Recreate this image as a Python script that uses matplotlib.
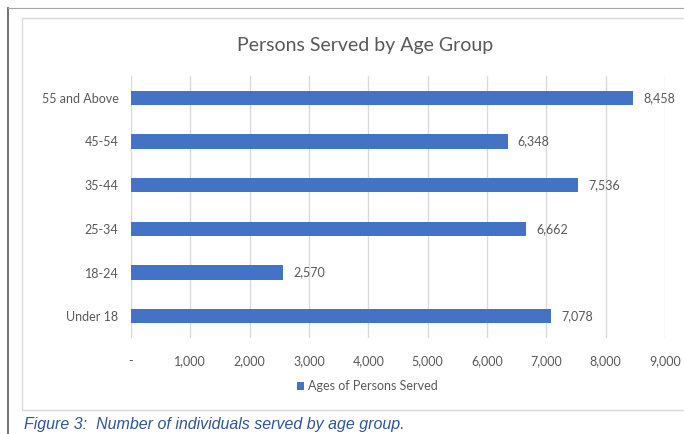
import matplotlib.pyplot as plt
from matplotlib.patches import Rectangle
from matplotlib.lines import Line2D

categories = ['Under 18', '18-24', '25-34', '35-44', '45-54', '55 and Above']
persons = [7078, 2570, 6662, 7536, 6348, 8458]
xticks = [0, 1000, 2000, 3000, 4000, 5000, 6000, 7000, 8000, 9000]
xtick_labels = ['-', '1,000', '2,000', '3,000', '4,000', '5,000',
                '6,000', '7,000', '8,000', '9,000']

plt.rcParams.update({
    'font.family': ['Lato', 'DejaVu Sans'],
    'font.size': 9,
})

W, H = 684, 434
fig = plt.figure(figsize=(W / 100, H / 100), dpi=100)

# outer page frame and chart frame
fig.add_artist(Line2D([8 / W, 8 / W], [0, 1 - 8 / H], color='#595959', lw=1.2))
fig.add_artist(Line2D([8 / W, 1], [1 - 8 / H, 1 - 8 / H], color='#a6a6a6', lw=0.8))
fig.add_artist(Rectangle((22 / W, 1 - 410 / H), (W - 22) / W + 0.01, (410 - 18) / H,
                         transform=fig.transFigure, fill=False,
                         edgecolor='#d9d9d9', lw=1.0))

ax = fig.add_axes([131 / W, 1 - 338 / H, 534 / W, (338 - 76) / H])
bar_color = '#4472C4'
bars = ax.barh(categories, persons, height=0.33, color=bar_color,
               label='Ages of Persons Served', zorder=3)
for b, v in zip(bars, persons):
    ax.text(v + 170, b.get_y() + b.get_height() / 2, f'{v:,}',
            va='center', ha='left', color='#595959', fontsize=9)

ax.set_xlim(0, 9000)
ax.set_ylim(-0.5, len(categories) - 0.5)
ax.set_xticks(xticks)
ax.set_xticklabels(xtick_labels, color='#595959')
ax.tick_params(axis='x', length=0, pad=12)
ax.tick_params(axis='y', length=0, pad=9, labelcolor='#595959')
ax.grid(axis='x', color='#d9d9d9', lw=1.0, zorder=0)
for s in ax.spines.values():
    s.set_visible(False)

fig.text(365 / W, 1 - 45 / H, 'Persons Served by Age Group',
         ha='center', va='center', fontsize=14, color='#595959')

fig.legend(handles=[bars], labels=['Ages of Persons Served'],
           loc='center', bbox_to_anchor=(367 / W, 1 - 386 / H),
           frameon=False, handlelength=0.6, handleheight=0.6,
           handletextpad=0.3, fontsize=9, labelcolor='#595959')

fig.text(24 / W, 1 - 425 / H, 'Figure 3:  Number of individuals served by age group.',
         ha='left', va='center', fontsize=11.5, style='italic',
         color='#2F5597', family='Liberation Sans')

fig.savefig('out.png', dpi=100)
